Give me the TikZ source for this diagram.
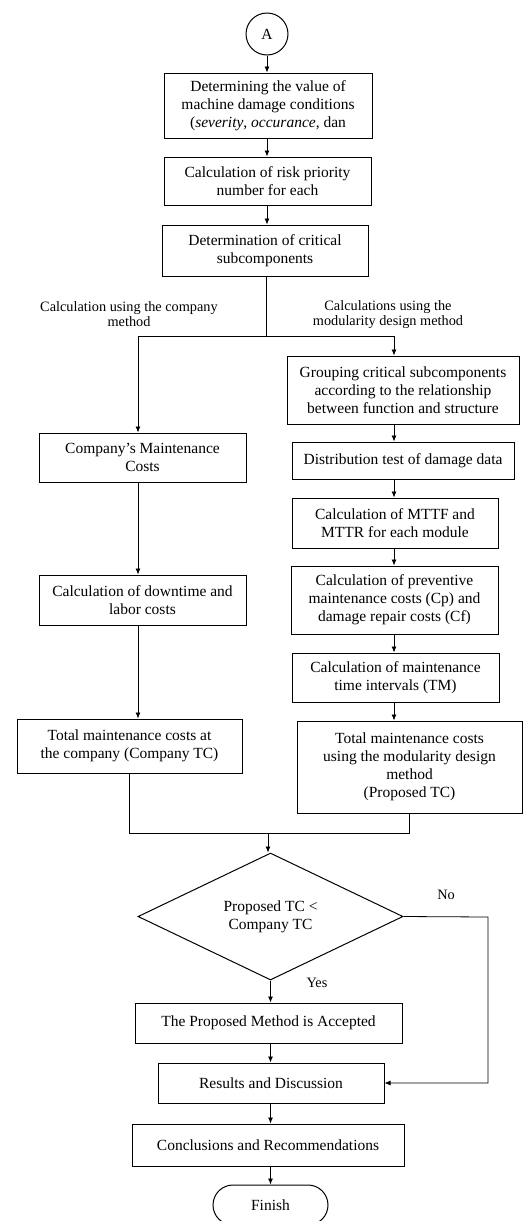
\documentclass[tikz,border=0pt]{standalone}
\usepackage{fontspec}
\setmainfont{Liberation Serif}
\usetikzlibrary{shapes.geometric,arrows.meta}
\tikzset{
	procbox/.style={draw, line width=1pt, align=center, inner sep=1pt, font=\fontsize{15.5}{18}\selectfont},
	sz/.style 2 args={minimum width=#1pt, minimum height=#2pt},
	flow/.style={draw, line width=0.8pt, -{Latex[length=6pt,width=5pt]}},
	branchlabel/.style={align=center, font=\fontsize{14.3}{15}\selectfont},
}

\begin{document}
\begin{tikzpicture}[x=1pt,y=-1pt]
	\useasboundingbox (0,0) rectangle (526,1221);
	\clip (0,0) rectangle (526,1221);
	% start and common steps
	\node[draw, circle, line width=1pt, minimum size=42pt, inner sep=0pt, font=\fontsize{15.5}{18}\selectfont] (A) at (267,34) {A};
	\node[procbox, sz={208}{65}] (b1) at (268,105.5) {Determining the value of\\machine damage conditions\\(\textit{severity}, \textit{occurance}, dan};
	\node[procbox, sz={207}{48}] (b2) at (267.5,181) {Calculation of risk priority\\number for each};
	\node[procbox, sz={206}{51}] (b3) at (265,250.5) {Determination of critical\\subcomponents};
	\coordinate (split) at (266,336);
	\coordinate (jl) at (138,336);
	\coordinate (jr) at (394,336);
	\node[branchlabel] (lblco) at (129,314.5) {Calculation using the company\\method};
	\node[branchlabel] (lblmd) at (388,314.5) {Calculations using the\\modularity design method};
	% company method
	\node[procbox, sz={207}{49}] (c1) at (142.5,457.5) {Company's Maintenance\\Costs};
	\node[procbox, sz={207}{50}] (c2) at (142.5,600) {Calculation of downtime and\\labor costs};
	\node[procbox, sz={225}{54}] (c3) at (129.5,746) {Total maintenance costs at\\the company (Company TC)};
	% modularity design method
	\node[procbox, sz={232}{68}] (g1) at (403,390) {Grouping critical subcomponents\\according to the relationship\\between function and structure};
	\node[procbox, sz={222}{37}] (g2) at (403,460.5) {Distribution test of damage data};
	\node[procbox, sz={206}{50}] (g3) at (395,523) {Calculation of MTTF and\\MTTR for each module};
	\node[procbox, sz={207}{68}] (g4) at (394.5,600) {Calculation of preventive\\maintenance costs (Cp) and\\damage repair costs (Cf)};
	\node[procbox, sz={207}{49}] (g5) at (395.5,677.5) {Calculation of maintenance\\time intervals (TM)};
	\node[procbox, sz={225}{92}] (g6) at (409.5,767) {Total maintenance costs\\using the modularity design\\method\\(Proposed TC)};
	% decision and end
	\coordinate (mg) at (268,833);
	\node[draw, diamond, shape aspect=2, line width=1pt, inner sep=0pt, align=center, sz={265}{127}, font=\fontsize{15.5}{18}\selectfont] (d) at (270.5,916.5) {Proposed TC <\\Company TC};
	\node[procbox, sz={267}{40}] (acc) at (268.5,1023) {The Proposed Method is Accepted};
	\node[procbox, sz={226}{40}] (res) at (271,1083) {Results and Discussion};
	\node[procbox, sz={272}{42}] (con) at (268,1145) {Conclusions and Recommendations};
	\node[procbox, rounded corners=20pt, sz={115}{40}] (fin) at (270.5,1205) {Finish};
	\coordinate (noturn) at (488,917);
	\node[branchlabel] (lblno) at (446,895) {No};
	\node[branchlabel] (lblyes) at (317,983) {Yes};

	\draw[flow] (A.south) -- (A.south |- b1.north);
	\draw[flow] (b1.south -| A) -- (b2.north -| A);
	\draw[flow] (b2.south -| A) -- (b3.north -| A);
	\draw[line width=0.8pt] (b3.south -| split) -- (split);
	\draw[line width=0.8pt] (jl) -- (jr);
	\draw[flow] (jl) -- (jl |- c1.north);
	\draw[flow] (c1.south -| jl) -- (c2.north -| jl);
	\draw[flow] (c2.south -| jl) -- (c3.north -| jl);
	\draw[flow] (jr) -- (jr |- g1.north);
	\foreach \u/\v in {g1/g2,g2/g3,g3/g4,g4/g5,g5/g6}
		\draw[flow] (\u.south -| jr) -- (\v.north -| jr);
	\draw[line width=0.8pt] (c3.south) |- (mg) -| (g6.south);
	\draw[flow] (mg) -- (mg |- d.north);
	\draw[flow] (d.south) -- (acc.north -| d.south);
	\draw[flow] (acc.south -| d.south) -- (res.north -| d.south);
	\draw[flow] (res.south -| d.south) -- (con.north -| d.south);
	\draw[flow] (con.south -| d.south) -- (fin.north -| d.south);
	\draw[flow] (d.east) -- (noturn) |- (res.east);
\end{tikzpicture}
\end{document}
